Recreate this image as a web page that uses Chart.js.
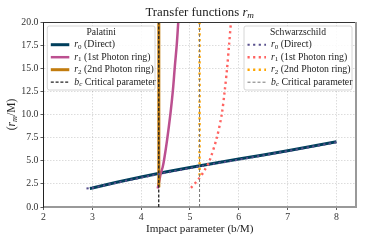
<!DOCTYPE html>
<html>
<head>
<meta charset="utf-8">
<script src="https://cdn.jsdelivr.net/npm/chart.js@4.4.1/dist/chart.umd.min.js"></script>
<style>
  html, body { margin: 0; padding: 0; background: #fff; }
  #wrap { width: 365px; height: 243px; }
</style>
</head>
<body>
<div id="wrap"><canvas id="grafico"></canvas></div>
<script>
// Datos (b/M -> r_m/M)
const palR0B = [2.95, 3.0, 3.5, 4.0, 4.5, 5.0, 5.5, 6.0, 6.5, 7.0, 7.5, 8.0];
const palR0  = [2.00, 2.05, 2.68, 3.25, 3.78, 4.28, 4.74, 5.18, 5.63, 6.09, 6.57, 7.06];
const palR1B = [4.34, 4.37, 4.40, 4.44, 4.47, 4.53, 4.60, 4.65, 4.69, 4.73, 4.76, 4.78];
const palR1  = [2.0, 2.8, 3.6, 4.3, 5.1, 7.2, 10.1, 12.6, 15.2, 17.6, 20.0, 21.5];
const palR2B = [4.36, 4.361, 4.362, 4.363];
const palR2  = [2.3, 5.0, 12.0, 21.0];
const palBcB = [4.36, 4.36];
const palBc  = [0, 20];

const schR0B = [2.88, 3.0, 3.5, 4.0, 4.5, 5.0, 5.5, 6.0, 6.5, 7.0, 7.5, 8.0];
const schR0  = [2.00, 2.06, 2.62, 3.18, 3.70, 4.20, 4.67, 5.12, 5.58, 6.04, 6.51, 7.00];
const schR1B = [5.02, 5.11, 5.19, 5.29, 5.40, 5.55, 5.65, 5.71, 5.76, 5.80, 5.84, 5.86];
const schR1  = [2.07, 2.6, 3.1, 3.9, 5.0, 7.5, 10.0, 12.5, 15.0, 17.5, 20.0, 21.0];
const schR2B = [5.196, 5.196];
const schR2  = [3.4, 21.0];
const schBcB = [5.196, 5.196];
const schBc  = [0, 20];

const xTicks = [2, 3, 4, 5, 6, 7, 8];
const yTicks = [0, 2.5, 5, 7.5, 10, 12.5, 15, 17.5, 20];

const SERIF = '"Liberation Serif", "DejaVu Serif", serif';

function pts(bs, rs) {
    return bs.map((b, i) => ({ x: b, y: rs[i] }));
}

// Etiquetas con partes: [texto, tipo]  n = normal, i = itálica, sub = subíndice, isub = subíndice itálico
const lbl0 = [['r', 'i'], ['0', 'sub'], [' (Direct)', 'n']];
const lbl1 = [['r', 'i'], ['1', 'sub'], [' (1st Photon ring)', 'n']];
const lbl2 = [['r', 'i'], ['2', 'sub'], [' (2nd Photon ring)', 'n']];
const lblC = [['b', 'i'], ['c', 'isub'], [' Critical parameter', 'n']];

const dotted = [2.2, 3.4];

const datasets = [
    { group: 'Palatini', parts: lbl0, data: pts(palR0B, palR0), borderColor: '#003f5c', borderWidth: 3, order: 8 },
    { group: 'Palatini', parts: lbl1, data: pts(palR1B, palR1), borderColor: '#bc5090', borderWidth: 2.5, tension: 0.3, order: 7 },
    { group: 'Palatini', parts: lbl2, data: pts(palR2B, palR2), borderColor: '#c27c0e', borderWidth: 3, order: 6 },
    { group: 'Palatini', parts: lblC, data: pts(palBcB, palBc), borderColor: '#222', borderWidth: 1.3, borderDash: [3, 1.8], order: 5 },
    { group: 'Schwarzschild', parts: lbl0, data: pts(schR0B, schR0), borderColor: '#58508d', borderWidth: 2, borderDash: dotted, order: 4 },
    { group: 'Schwarzschild', parts: lbl1, data: pts(schR1B, schR1), borderColor: '#ff6361', borderWidth: 2.4, borderDash: dotted, tension: 0.3, order: 3 },
    { group: 'Schwarzschild', parts: lbl2, data: pts(schR2B, schR2), borderColor: '#ffa600', borderWidth: 2.4, borderDash: dotted, order: 2 },
    { group: 'Schwarzschild', parts: lblC, data: pts(schBcB, schBc), borderColor: '#777', borderWidth: 1, borderDash: [3, 2], order: 1 }
];
datasets.forEach(d => { d.showLine = true; d.pointRadius = 0; d.fill = false; d.label = d.parts.map(p => p[0]).join(''); });

// Texto con itálicas y subíndices
function fontFor(kind, size) {
    const s = (kind === 'sub' || kind === 'isub') ? size * 0.72 : size;
    const it = (kind === 'i' || kind === 'isub') ? 'italic ' : '';
    return it + s + 'px ' + SERIF;
}
function richWidth(ctx, parts, size) {
    let w = 0;
    parts.forEach(p => { ctx.font = fontFor(p[1], size); w += ctx.measureText(p[0]).width; });
    return w;
}
function drawRich(ctx, parts, x, y, size, align) {
    let cx = x;
    if (align === 'center') cx = x - richWidth(ctx, parts, size) / 2;
    ctx.textAlign = 'left';
    ctx.textBaseline = 'middle';
    parts.forEach(p => {
        ctx.font = fontFor(p[1], size);
        const dy = (p[1] === 'sub' || p[1] === 'isub') ? size * 0.22 : 0;
        ctx.fillText(p[0], cx, y + dy);
        cx += ctx.measureText(p[0]).width;
    });
}

const cajas = {
    Palatini: { x: 47.3, y: 26, w: 107.7, h: 64 },
    Schwarzschild: { x: 244, y: 26, w: 108, h: 64 }
};

const decoraciones = {
    id: 'decoraciones',
    afterDraw(chart) {
        const ctx = chart.ctx;
        const a = chart.chartArea;
        ctx.save();
        // Bordes superior y derecho
        ctx.strokeStyle = '#333';
        ctx.lineWidth = 1;
        ctx.beginPath(); ctx.moveTo(a.left, a.top + 0.5); ctx.lineTo(a.right, a.top + 0.5); ctx.stroke();
        ctx.strokeStyle = '#999';
        ctx.lineWidth = 2;
        ctx.beginPath(); ctx.moveTo(a.right, a.top); ctx.lineTo(a.right, a.bottom + 1); ctx.stroke();

        ctx.fillStyle = '#222';
        // Título
        drawRich(ctx, [['Transfer functions ', 'n'], ['r', 'i'], ['m', 'isub']], (a.left + a.right) / 2, 13, 12.8, 'center');
        // Títulos de ejes
        drawRich(ctx, [['Impact parameter (b/M)', 'n']], (a.left + a.right) / 2, 229, 11.2, 'center');
        ctx.save();
        ctx.translate(12, (a.top + a.bottom) / 2);
        ctx.rotate(-Math.PI / 2);
        drawRich(ctx, [['(', 'n'], ['r', 'i'], ['m', 'isub'], ['/M)', 'n']], 0, 0, 11.5, 'center');
        ctx.restore();

        // Leyendas
        Object.keys(cajas).forEach(grupo => {
            const c = cajas[grupo];
            ctx.fillStyle = 'rgba(255,255,255,0.85)';
            ctx.strokeStyle = '#cccccc';
            ctx.lineWidth = 0.8;
            ctx.setLineDash([]);
            ctx.beginPath();
            ctx.roundRect(c.x, c.y, c.w, c.h, 2);
            ctx.fill();
            ctx.stroke();
            ctx.fillStyle = '#222';
            drawRich(ctx, [[grupo, 'n']], c.x + c.w / 2, c.y + 6.5, 9.6, 'center');
            const items = chart.data.datasets.filter(d => d.group === grupo);
            items.forEach((d, i) => {
                const y = c.y + 18.7 + i * 12.5;
                ctx.strokeStyle = d.borderColor;
                ctx.lineWidth = d.borderWidth;
                ctx.setLineDash(d.borderDash || []);
                ctx.beginPath();
                ctx.moveTo(c.x + 3.5, y);
                ctx.lineTo(c.x + 22, y);
                ctx.stroke();
                ctx.setLineDash([]);
                ctx.fillStyle = '#222';
                drawRich(ctx, d.parts, c.x + 27, y, 9.8, 'left');
            });
        });
        ctx.restore();
    }
};

const ejeComun = {
    type: 'linear',
    grid: { color: 'rgba(0,0,0,0.2)', lineWidth: 0.7, tickLength: 3, tickColor: '#333', tickWidth: 0.8 },
    ticks: { color: '#333', font: { family: SERIF, size: 9.8 }, padding: 2 }
};

new Chart(document.getElementById('grafico'), {
    type: 'scatter',
    data: { datasets: datasets },
    options: {
        responsive: true,
        maintainAspectRatio: false,
        animation: false,
        devicePixelRatio: 1,
        layout: { padding: { top: 22, right: 9, left: 0, bottom: 0 } },
        plugins: { legend: { display: false }, tooltip: { enabled: false } },
        scales: {
            x: {
                ...ejeComun,
                min: 2, max: 8.4,
                border: { color: '#999', width: 2, dash: [1.5, 1.5] },
                ticks: { ...ejeComun.ticks, includeBounds: false, autoSkip: false },
                afterBuildTicks: s => { s.ticks = xTicks.map(v => ({ value: v })); },
                afterFit: s => { s.height = 36; }
            },
            y: {
                ...ejeComun,
                min: 0, max: 20,
                border: { color: '#222', width: 1, dash: [1.5, 1.5] },
                ticks: { ...ejeComun.ticks, autoSkip: false, callback: v => v.toFixed(1) },
                afterBuildTicks: s => { s.ticks = yTicks.map(v => ({ value: v })); },
                afterFit: s => { s.width = 43.5; }
            }
        }
    },
    plugins: [decoraciones]
});
</script>
</body>
</html>
